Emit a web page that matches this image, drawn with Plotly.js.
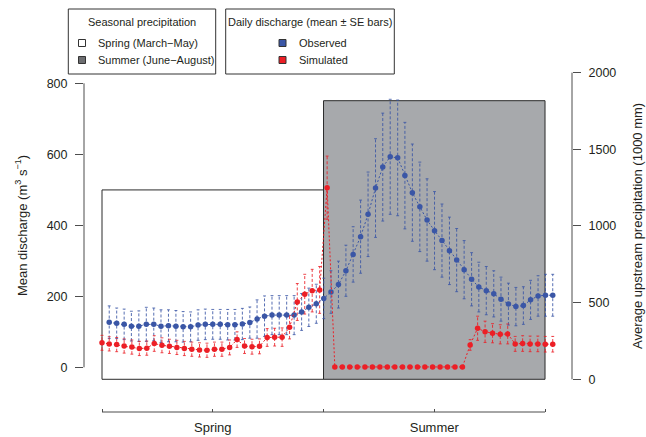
<!DOCTYPE html>
<html><head><meta charset="utf-8">
<script src="https://cdn.plot.ly/plotly-3.0.1.min.js"></script>
<style>html,body{margin:0;padding:0;background:#fff;}#chart{width:646px;height:437px;}</style>
</head><body><div id="chart"></div>
<script>
// ---- data ----
const seasons = ['Spring', 'Summer'];
const seasonLabels = ['Spring (March\u2212May)', 'Summer (June\u2212August)'];
const seasonStartDay = [0, 92];
const seasonLengthDays = [92, 92];
const seasonPrecip = [1235, 1817];

const obsDay = [3.0,6.1,9.2,12.2,15.3,18.4,21.5,24.5,27.6,30.7,
  33.7,36.8,39.9,42.9,46.0,49.1,52.2,55.2,58.3,61.4,
  64.4,67.5,70.6,73.6,76.7,79.8,82.9,85.9,89.0,92.1,
  95.1,98.2,101.3,104.3,107.4,110.5,113.6,116.6,119.7,122.8,
  125.8,128.9,132.0,135.0,138.1,141.2,144.3,147.3,150.4,153.5,
  156.5,159.6,162.7,165.7,168.8,171.9,175.0,178.0,181.1,184.2,187.2];
const obsMean = [127,124,121,116,116,121,121,116,117,116,
  114,114,119,121,121,121,120,120,122,126,
  136,144,147,147,147,147,156,169,179,194,
  212,233,272,318,368,431,505,564,593,590,
  540,492,452,415,385,357,328,302,275,248,
  226,216,207,192,178,171,174,190,201,203,203];
const obsSE = [46,43,43,42,43,48,46,46,45,44,
  43,42,43,43,42,42,43,43,44,44,
  54,57,55,55,55,55,52,54,55,57,
  60,66,72,78,103,119,139,152,162,163,
  150,137,126,116,110,103,95,89,82,75,
  70,68,65,62,59,54,53,55,57,59,59];

const simDay = [0.0,3.0,6.1,9.2,12.4,15.5,18.6,21.7,24.9,28.0,
  31.1,34.2,37.3,40.5,43.6,46.7,49.8,53.0,56.1,59.2,
  62.3,65.4,68.6,71.7,74.8,77.9,81.1,84.2,87.3,90.4,
  93.5,96.7,99.8,102.9,106.0,109.2,112.3,115.4,118.5,121.6,
  124.8,127.9,131.0,134.1,137.3,140.4,143.5,146.6,149.7,152.9,
  156.0,159.1,162.2,165.4,168.5,171.6,174.7,177.8,181.0,184.1,187.2];
const simMean = [69,66,64,60,57,53,54,67,62,59,
  56,53,51,49,48,51,51,56,78,60,
  58,59,84,85,85,113,184,206,216,218,
  506,1,1,1,1,1,1,1,1,1,
  1,1,1,1,1,1,1,1,1,63,
  110,100,96,93,94,66,67,66,66,65,65];
const simSE = [21,20,20,20,20,20,20,22,21,20,
  20,20,20,20,20,20,20,21,22,21,
  21,21,25,25,26,33,52,56,60,66,
  89,2,2,2,2,2,2,2,2,2,
  2,2,2,2,2,2,2,2,2,15,
  34,30,27,27,28,21,22,22,22,22,22];

const dischargeTicks = [0, 200, 400, 600, 800];
const precipTicks = [0, 500, 1000, 1500, 2000];
const seasonTickDays = [46, 138];
const seasonBoundaryDays = [0, 92, 184];

// ---- styling ----
const BLUE = '#3A56A6', RED = '#EC1F26', GREY = '#A7A9AC', LEGGREY = '#6D6E71';
const AX = '#4D4D4D', TXT = '#231F20';
const FONT = 'Liberation Sans, Arial, Helvetica, sans-serif';
const L = 84, R = 74, T = 70, B = 25, W = 646, H = 437;
const PW = W - L - R, PH = H - T - B;
const px = x => (x - L) / PW;
const py = y => (H - B - y) / PH;

function barSegs(xs, m, se) {
  const x = [], y = [];
  xs.forEach((d, i) => { x.push(d, d, null); y.push(m[i] - se[i], m[i] + se[i], null); });
  return {x, y};
}
function capSegs(xs, m, se, w) {
  const x = [], y = [];
  xs.forEach((d, i) => {
    x.push(d - w, d + w, null); y.push(m[i] + se[i], m[i] + se[i], null);
    x.push(d - w, d + w, null); y.push(m[i] - se[i], m[i] - se[i], null);
  });
  return {x, y};
}

const ob = barSegs(obsDay, obsMean, obsSE), oc = capSegs(obsDay, obsMean, obsSE, 0.6);
const sb = barSegs(simDay, simMean, simSE), sc = capSegs(simDay, simMean, simSE, 0.6);

const traces = [
  { type: 'bar', x: seasonStartDay.map((s, i) => s + seasonLengthDays[i] / 2), y: seasonPrecip,
    width: seasonLengthDays, yaxis: 'y', xaxis: 'x', name: 'precip',
    marker: { color: ['#FFFFFF', GREY], line: { color: '#2b2b2b', width: 1 } }, hoverinfo: 'skip' },
  { type: 'scatter', mode: 'lines', x: ob.x, y: ob.y, yaxis: 'y2',
    line: { color: BLUE, width: 1, dash: '3px,2px' }, opacity: 0.85, hoverinfo: 'skip' },
  { type: 'scatter', mode: 'lines', x: oc.x, y: oc.y, yaxis: 'y2',
    line: { color: BLUE, width: 1 }, opacity: 0.8, hoverinfo: 'skip' },
  { type: 'scatter', mode: 'lines', x: sb.x, y: sb.y, yaxis: 'y2',
    line: { color: RED, width: 1, dash: '3px,2px' }, opacity: 0.85, hoverinfo: 'skip' },
  { type: 'scatter', mode: 'lines', x: sc.x, y: sc.y, yaxis: 'y2',
    line: { color: RED, width: 1 }, opacity: 0.8, hoverinfo: 'skip' },
  { type: 'scatter', mode: 'lines+markers', x: obsDay, y: obsMean, yaxis: 'y2', name: 'Observed',
    line: { color: BLUE, width: 1, dash: '2px,2px' }, marker: { color: BLUE, size: 5.5 } },
  { type: 'scatter', mode: 'lines+markers', x: simDay, y: simMean, yaxis: 'y2', name: 'Simulated',
    line: { color: RED, width: 1, dash: '2px,2px' }, marker: { color: RED, size: 5.5 } }
];

const shapes = [
  // axis lines
  { type: 'line', xref: 'paper', yref: 'y2', x0: 0, x1: 0, y0: 0, y1: 800, line: { color: AX, width: 1 } },
  { type: 'line', xref: 'paper', yref: 'y', x0: 1, x1: 1, y0: 0, y1: 2000, line: { color: AX, width: 1 } },
  { type: 'line', xref: 'x', yref: 'paper', x0: 0, x1: 184, y0: 0, y1: 0, line: { color: AX, width: 1 } },
  // legend boxes
  { type: 'rect', xref: 'paper', yref: 'paper', x0: px(68.3), x1: px(215.7), y0: py(74), y1: py(9),
    line: { color: '#333', width: 1 }, fillcolor: 'rgba(255,255,255,0)' },
  { type: 'rect', xref: 'paper', yref: 'paper', x0: px(225.7), x1: px(394.3), y0: py(74), y1: py(9),
    line: { color: '#333', width: 1 }, fillcolor: 'rgba(255,255,255,0)' },
  { type: 'rect', xref: 'paper', yref: 'paper', x0: px(78.5), x1: px(85.5), y0: py(46.5), y1: py(39.5),
    line: { color: '#333', width: 1 }, fillcolor: '#FFFFFF' },
  { type: 'rect', xref: 'paper', yref: 'paper', x0: px(78.5), x1: px(85.5), y0: py(63.5), y1: py(56.5),
    line: { color: '#333', width: 1 }, fillcolor: LEGGREY },
  { type: 'rect', xref: 'paper', yref: 'paper', x0: px(279), x1: px(286), y0: py(46.5), y1: py(39.5),
    line: { color: '#333', width: 1 }, fillcolor: BLUE },
  { type: 'rect', xref: 'paper', yref: 'paper', x0: px(279), x1: px(286), y0: py(63.5), y1: py(56.5),
    line: { color: '#333', width: 1 }, fillcolor: RED }
];

const lf = { family: FONT, size: 11, color: TXT };
const annotations = [
  { xref: 'paper', yref: 'paper', x: px(142), y: py(21.7), text: 'Seasonal precipitation', showarrow: false, xanchor: 'center', yanchor: 'middle', font: lf },
  { xref: 'paper', yref: 'paper', x: px(96), y: py(43), text: seasonLabels[0], showarrow: false, xanchor: 'left', yanchor: 'middle', font: lf },
  { xref: 'paper', yref: 'paper', x: px(96), y: py(60), text: seasonLabels[1], showarrow: false, xanchor: 'left', yanchor: 'middle', font: lf },
  { xref: 'paper', yref: 'paper', x: px(310), y: py(21.7), text: 'Daily discharge (mean \u00b1 SE bars)', showarrow: false, xanchor: 'center', yanchor: 'middle', font: lf },
  { xref: 'paper', yref: 'paper', x: px(297), y: py(43), text: 'Observed', showarrow: false, xanchor: 'left', yanchor: 'middle', font: lf },
  { xref: 'paper', yref: 'paper', x: px(297), y: py(60), text: 'Simulated', showarrow: false, xanchor: 'left', yanchor: 'middle', font: lf },
  { xref: 'paper', yref: 'y2', x: px(21.7), y: 400, text: 'Mean discharge (m<sup>3</sup> s<sup>\u22121</sup>)', textangle: -90,
    showarrow: false, xanchor: 'center', yanchor: 'middle', font: { family: FONT, size: 13, color: TXT } },
  { xref: 'paper', yref: 'y', x: px(638), y: 1000, text: 'Average upstream precipitation (1000 mm)', textangle: -90,
    showarrow: false, xanchor: 'center', yanchor: 'middle', font: { family: FONT, size: 13, color: TXT } }
];

const layout = {
  width: W, height: H,
  margin: { l: L, r: R, t: T, b: B, pad: 0 },
  paper_bgcolor: '#fff', plot_bgcolor: 'rgba(0,0,0,0)',
  showlegend: false,
  barmode: 'overlay',
  font: { family: FONT, color: TXT },
  xaxis: { range: [-7.476, 195.2], showgrid: false, zeroline: false, showline: false,
    tickmode: 'array', tickvals: seasonTickDays, ticktext: seasons,
    ticks: 'inside', ticklen: 3, tickcolor: AX, tickwidth: 1, tickfont: { size: 13, color: TXT },
    ticklabelstandoff: 6,
    minor: { tickmode: 'array', tickvals: seasonBoundaryDays, ticks: 'inside', ticklen: 3, tickcolor: AX, tickwidth: 1, showgrid: false } },
  yaxis: { range: [-213.3, 2017.2], side: 'right', showgrid: false, zeroline: false, showline: false,
    tickmode: 'array', tickvals: precipTicks, ticks: 'outside', ticklen: 8, tickcolor: AX, tickwidth: 1,
    tickfont: { size: 12.5, color: TXT }, ticklabelstandoff: 5 },
  yaxis2: { range: [-125.9, 837.5], overlaying: 'y', side: 'left', showgrid: false, zeroline: false, showline: false,
    tickmode: 'array', tickvals: dischargeTicks, ticks: 'outside', ticklen: 8, tickcolor: AX, tickwidth: 1,
    tickfont: { size: 12.5, color: TXT }, ticklabelstandoff: 5 },
  shapes, annotations
};

Plotly.newPlot('chart', traces, layout, { displayModeBar: false, staticPlot: true });
</script>
</body></html>
